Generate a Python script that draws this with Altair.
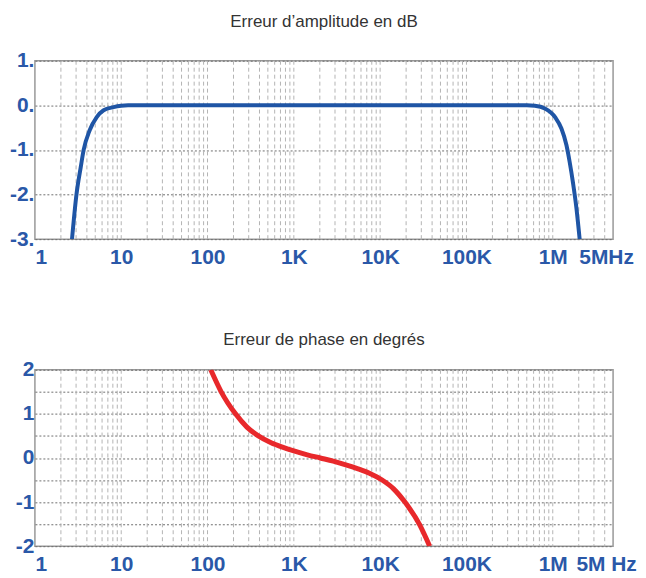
import altair as alt
import pandas as pd

# ---- data ----
amp_freq = [2.69, 3.03, 3.4, 3.67, 4.31, 5.23, 6.25, 8.15, 10, 12, 100, 1000, 1e4, 1e5,
            5e5, 6.2e5, 8.1e5, 1.07e6, 1.26e6, 1.44e6, 1.57e6, 1.72e6, 1.88e6, 2.05e6]
amp_db = [-3.0, -2.0, -1.38, -1.0, -0.56, -0.26, -0.11, -0.04, -0.01, 0.0, 0.0, 0.0, 0.0, 0.0,
          0.0, -0.01, -0.07, -0.27, -0.52, -0.89, -1.27, -1.75, -2.3, -3.0]

ph_freq = [109, 144, 211, 286, 388, 545, 752, 1000, 1432, 2023, 2858, 4093, 5445, 7516,
           10544, 14322, 19364, 28445, 37497]
ph_deg = [2.0, 1.5, 1.0, 0.7, 0.5, 0.345, 0.24, 0.16, 0.072, 0.0, -0.072, -0.16, -0.24,
          -0.345, -0.5, -0.7, -1.0, -1.5, -2.0]

tick_vals = [1, 10, 100, 1000, 10000, 100000, 1000000, 5000000]
tick_labels_top = ["1", "10", "100", "1K", "10K", "100K", "1M", "5MHz"]
tick_labels_bot = ["1", "10", "100", "1K", "10K", "100K", "1M", "5M Hz"]

amp_yticks = [1, 0, -1, -2, -3]
ph_yticks = [2, 1.5, 1, 0.5, 0, -0.5, -1, -1.5, -2]

grid_freqs = [m * 10 ** k for k in range(0, 7) for m in range(1, 10)
              if 1 < m * 10 ** k < 5000000]

LABEL_FONT = "Liberation Sans"
LABEL_COLOR = "#2a58a8"
LABEL_SIZE = 21
PLOT_W = 580

xscale = alt.Scale(type="log", domain=[1, 5000000], nice=False)


def x_axis(labels):
    expr = "[" + ",".join("'%s'" % s for s in labels) + "][indexof([" + \
        ",".join(str(v) for v in tick_vals) + "], datum.value)]"
    return alt.Axis(values=tick_vals, labelExpr=expr, grid=False, ticks=False, domain=False,
                    labelFont=LABEL_FONT, labelFontWeight="bold", labelFontSize=LABEL_SIZE,
                    labelColor=LABEL_COLOR, labelPadding=7, labelFlush=False,
                    labelAlign={"condition": {"test": "datum.value == 1", "value": "left"},
                                "value": "center"},
                    labelOffset={"condition": {"test": "datum.value == 5000000", "value": -7},
                                 "value": 0})


def panel(df, ycol, ydomain, yticks, ylabel_expr, color, width_line, title, title_offset,
          labels, h):
    grid = alt.Chart(pd.DataFrame({"f": grid_freqs})).mark_rule(
        color="#b4b4b4", strokeDash=[4, 3], strokeWidth=1
    ).encode(x=alt.X("f:Q", scale=xscale, axis=x_axis(labels), title=None))

    line = alt.Chart(df).mark_line(
        color=color, strokeWidth=width_line, clip=True, interpolate="monotone"
    ).encode(
        x=alt.X("f:Q", scale=xscale, axis=x_axis(labels), title=None),
        y=alt.Y(ycol + ":Q", scale=alt.Scale(domain=ydomain, nice=False, zero=False),
                axis=alt.Axis(values=yticks, labelExpr=ylabel_expr, grid=True,
                              gridDash=[2, 2], gridColor="#6e6e6e", gridWidth=1,
                              ticks=False, domain=False,
                              labelFont=LABEL_FONT, labelFontWeight="bold",
                              labelFontSize=LABEL_SIZE, labelColor=LABEL_COLOR,
                              labelPadding=1, labelBaseline="middle"),
                title=None),
    )
    return alt.layer(grid, line).properties(
        width=PLOT_W, height=h,
        title=alt.TitleParams(title, font="Liberation Sans", fontSize=17,
                              fontWeight="normal", color="#333333", offset=title_offset,
                              anchor="middle"),
    )


amp_df = pd.DataFrame({"f": amp_freq, "v": amp_db})
ph_df = pd.DataFrame({"f": ph_freq, "v": ph_deg})

amp_expr = "(datum.value < 0 ? '-' : '') + abs(datum.value) + '.'"
ph_expr = "datum.value % 1 == 0 ? (datum.value < 0 ? '-' : '') + abs(datum.value) : ''"

top = panel(amp_df, "v", [-3, 1], amp_yticks, amp_expr, "#1f55a5", 4,
            "Erreur d\u2019amplitude en dB", 19, tick_labels_top, 179)
bottom = panel(ph_df, "v", [-2, 2], ph_yticks, ph_expr, "#e8282b", 5,
               "Erreur de phase en degr\u00e9s", 10, tick_labels_bot, 177)

chart = alt.vconcat(top, bottom, spacing=62).properties(
    padding={"left": 0, "top": 3, "right": 0, "bottom": 0}
).configure_view(stroke="#999999", strokeWidth=1.5)

chart.save("out.html", embed_options={"renderer": "svg", "actions": False})
